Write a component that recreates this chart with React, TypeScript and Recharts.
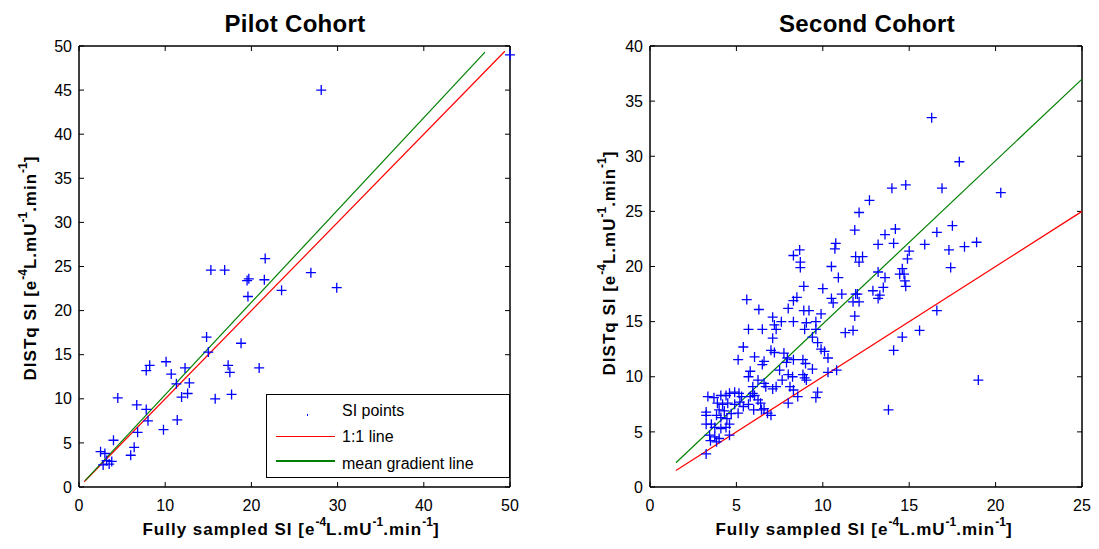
import React from 'react';
import { ScatterChart, Scatter, XAxis, YAxis } from 'recharts';

// Pilot cohort: [fully sampled SI, DISTq SI]
const pilotPoints: [number, number][] = [
  [21.6, 25.9], [15.3, 24.6], [16.9, 24.6], [19.5, 23.4], [19.7, 23.6], [21.5, 23.5],
  [26.9, 24.3], [23.5, 22.3], [19.6, 21.6], [29.9, 22.6], [14.8, 17.0], [15.0, 15.3],
  [18.8, 16.3], [10.1, 14.2], [8.2, 13.8], [7.8, 13.2], [10.7, 12.8], [12.3, 13.5],
  [17.3, 13.8], [17.5, 13.0], [20.9, 13.5], [11.3, 11.7], [12.8, 11.8], [12.6, 10.6],
  [11.9, 10.2], [4.5, 10.1], [15.8, 10.0], [17.7, 10.5], [6.7, 9.3], [7.8, 8.8],
  [8.0, 7.5], [11.4, 7.6], [9.8, 6.5], [6.8, 6.2], [4.0, 5.3], [6.4, 4.5],
  [6.0, 3.6], [2.5, 4.0], [3.0, 3.8], [2.8, 2.5], [3.5, 2.6], [3.8, 2.9],
  [3.2, 3.0], [28.1, 45.0], [50.0, 49.0],
];
const pilotOneToOne: [number, number][] = [[0.6, 0.6], [49.4, 49.4]];
const pilotMeanGradient: [number, number][] = [[0.7, 0.73], [47.1, 49.3]];

// Second cohort
const secondPoints: [number, number][] = [
  [12.1, 24.9], [11.85, 23.3], [12.7, 26.0], [8.66, 21.5], [8.3, 21.0], [8.7, 20.4],
  [8.7, 19.9], [10.75, 22.1], [10.7, 21.6], [10.5, 20.0], [10.9, 19.0], [11.9, 20.9],
  [12.3, 20.9], [12.1, 20.4], [8.9, 18.2], [10.0, 18.0],
  [16.3, 33.5], [17.9, 29.5], [14.0, 27.1], [14.8, 27.4], [16.9, 27.1], [20.3, 26.7],
  [14.2, 23.4], [13.6, 22.9], [17.5, 23.7], [16.6, 23.1], [14.1, 22.1], [13.2, 22.0],
  [15.9, 22.0], [17.3, 21.5], [18.2, 21.8], [18.9, 22.2], [15.0, 21.4], [14.9, 20.7],
  [13.2, 19.5], [13.6, 19.0], [14.6, 19.8], [14.45, 19.3], [14.7, 19.3], [14.75, 18.7],
  [14.8, 18.2], [17.4, 19.9], [12.9, 17.8], [13.5, 18.1], [13.3, 17.4], [11.9, 17.5],
  [13.2, 17.1], [12.0, 17.5], [11.75, 16.8], [12.1, 16.8], [11.85, 15.5], [11.75, 14.2],
  [16.6, 16.0], [15.6, 14.2], [14.6, 13.6], [14.1, 12.4], [19.0, 9.7], [13.8, 7.0],
  [5.6, 17.0], [6.3, 16.1], [8.3, 16.9], [8.5, 17.2], [8.0, 16.2], [8.9, 16.0],
  [9.2, 16.0], [9.9, 15.7], [10.5, 17.1], [10.6, 16.7], [11.1, 17.5], [11.3, 14.0],
  [7.1, 15.4], [7.6, 15.0], [8.3, 15.0], [9.05, 14.9], [9.6, 15.0], [7.2, 14.7],
  [5.7, 14.3], [6.5, 14.3], [7.3, 14.3], [8.95, 14.3], [9.6, 14.3], [7.1, 13.5],
  [9.4, 13.6], [9.7, 13.1], [9.9, 12.5], [10.1, 12.3], [10.3, 11.7], [5.4, 12.7],
  [5.1, 11.55], [6.05, 11.8], [6.6, 11.4], [6.5, 11.1], [7.0, 12.4], [7.2, 12.2],
  [7.75, 12.15], [7.95, 11.7], [7.9, 11.3], [8.3, 11.55], [8.85, 11.55], [9.0, 11.2],
  [7.5, 10.6], [9.4, 10.7], [5.8, 10.5], [5.7, 10.0], [8.0, 10.2], [8.25, 10.0],
  [8.85, 10.2], [8.95, 9.9], [9.05, 9.7], [10.3, 10.4], [10.8, 10.6], [7.65, 9.7],
  [8.1, 9.1], [8.3, 8.8], [8.55, 8.2], [9.7, 8.6], [9.6, 8.1], [8.0, 7.6],
  [7.1, 8.9], [7.3, 9.1], [6.7, 9.1], [6.6, 9.4], [6.25, 9.7], [5.95, 9.1],
  [5.95, 8.5], [6.05, 8.3], [5.8, 8.2], [6.25, 7.9], [6.4, 7.6], [6.6, 7.1],
  [6.8, 6.7], [7.0, 6.5], [6.45, 7.0], [6.0, 7.0], [5.4, 7.3], [5.3, 8.2],
  [5.15, 8.5], [4.9, 8.6], [4.6, 8.5], [4.4, 8.3], [4.1, 8.3], [3.7, 8.1],
  [3.35, 8.2], [3.9, 7.6], [4.2, 7.5], [4.5, 7.6], [4.9, 7.5], [5.2, 7.7],
  [5.7, 7.5], [4.0, 7.0], [4.3, 6.9], [4.7, 6.65], [5.1, 6.7], [3.85, 6.5],
  [4.1, 6.3], [4.45, 6.2], [4.6, 5.7], [4.4, 5.4], [4.1, 5.3], [3.75, 5.4],
  [3.55, 5.7], [3.25, 6.5], [3.25, 6.8], [3.25, 5.7], [3.45, 4.7], [3.75, 4.55],
  [4.0, 4.4], [3.5, 4.2], [3.85, 4.1], [3.25, 3.0], [4.6, 4.7],
];
const secondOneToOne: [number, number][] = [[1.5, 1.5], [25, 25]];
const secondMeanGradient: [number, number][] = [[1.5, 2.2], [25, 37]];

const pilotTicks = [0, 10, 20, 30, 40, 50];
const pilotYTicks = [0, 5, 10, 15, 20, 25, 30, 35, 40, 45, 50];
const secondXTicks = [0, 5, 10, 15, 20, 25];
const secondYTicks = [0, 5, 10, 15, 20, 25, 30, 35, 40];

const FONT = 'Arial, "Liberation Sans", sans-serif';
const tickStyle = { fontSize: 16, fill: '#000', fontFamily: FONT };
const axisLine = { stroke: '#000', strokeWidth: 1.5 };
const tickLine = { stroke: '#000', strokeWidth: 1 };

const toXY = (pts: [number, number][]) => pts.map(([x, y]) => ({ x, y }));

const Cross = (props: any) => {
  const { cx, cy } = props;
  if (cx == null || cy == null) return <g />;
  return (
    <path
      d={`M${cx - 5},${cy}h10M${cx},${cy - 5}v10`}
      stroke="#0000ff"
      strokeWidth={1.3}
      fill="none"
    />
  );
};

const NoDot = () => <g />;

interface PanelProps {
  left: number;
  width: number;
  yAxisWidth: number;
  rightMargin: number;
  xDomain: [number, number];
  yDomain: [number, number];
  xTicks: number[];
  yTicks: number[];
  points: [number, number][];
  oneToOne: [number, number][];
  meanGradient: [number, number][];
}

const Panel: React.FC<PanelProps> = (p) => (
  <div style={{ position: 'absolute', left: p.left, top: 0 }}>
    <ScatterChart
      width={p.width}
      height={549}
      margin={{ top: 45, right: p.rightMargin - 1, bottom: 32, left: 0 }}
    >
      <XAxis
        type="number"
        dataKey="x"
        domain={p.xDomain}
        ticks={p.xTicks}
        height={30}
        tickSize={-5}
        tickMargin={18}
        tick={tickStyle}
        axisLine={axisLine}
        tickLine={tickLine}
      />
      <XAxis
        xAxisId="top"
        orientation="top"
        type="number"
        dataKey="x"
        domain={p.xDomain}
        ticks={p.xTicks}
        height={1}
        tickSize={-5}
        tickFormatter={() => ''}
        axisLine={axisLine}
        tickLine={tickLine}
      />
      <YAxis
        type="number"
        dataKey="y"
        domain={p.yDomain}
        ticks={p.yTicks}
        width={p.yAxisWidth}
        tickSize={-5}
        tickMargin={12}
        tick={tickStyle}
        axisLine={axisLine}
        tickLine={tickLine}
      />
      <YAxis
        yAxisId="right"
        orientation="right"
        type="number"
        dataKey="y"
        domain={p.yDomain}
        ticks={p.yTicks}
        width={1}
        tickSize={-5}
        tickFormatter={() => ''}
        axisLine={axisLine}
        tickLine={tickLine}
      />
      {/* invisible series so the top/right box axes get drawn */}
      <Scatter
        xAxisId="top"
        yAxisId="right"
        data={toXY(p.oneToOne)}
        shape={NoDot}
        isAnimationActive={false}
      />
      <Scatter
        data={toXY(p.oneToOne)}
        line={{ stroke: '#ff0000', strokeWidth: 1.2 }}
        shape={NoDot}
        isAnimationActive={false}
      />
      <Scatter
        data={toXY(p.meanGradient)}
        line={{ stroke: '#008000', strokeWidth: 1.2 }}
        shape={NoDot}
        isAnimationActive={false}
      />
      <Scatter data={toXY(p.points)} shape={Cross} isAnimationActive={false} />
    </ScatterChart>
  </div>
);

const supStyle: React.CSSProperties = {
  fontSize: 12,
  letterSpacing: 0,
  verticalAlign: 'baseline',
  position: 'relative',
  top: -9,
};

const unitLabel = (prefix: string) => (
  <span>
    {prefix} [e<span style={supStyle}>-4</span>L.mU<span style={supStyle}>-1</span>.min
    <span style={supStyle}>-1</span>]
  </span>
);

const labelBase: React.CSSProperties = {
  position: 'absolute',
  fontFamily: FONT,
  fontWeight: 'bold',
  fontSize: 17,
  letterSpacing: 1,
  whiteSpace: 'nowrap',
  color: '#000',
  lineHeight: 'normal',
};

const titleStyle: React.CSSProperties = {
  ...labelBase,
  fontSize: 24,
  letterSpacing: 0.3,
  top: 10,
  transform: 'translateX(-50%)',
};

const xLabel = (cx: number) => (
  <div style={{ ...labelBase, left: cx, top: 520, transform: 'translateX(-50%)' }}>
    {unitLabel('Fully sampled SI')}
  </div>
);

const yLabel = (cx: number, cy: number) => (
  <div
    style={{
      ...labelBase,
      left: cx,
      top: cy,
      transform: 'translate(-50%, -50%) rotate(-90deg)',
    }}
  >
    {unitLabel('DISTq SI')}
  </div>
);

const legendItems = [
  { name: 'SI points', kind: 'dot' },
  { name: '1:1 line', kind: '#ff0000' },
  { name: 'mean gradient line', kind: '#008000' },
];

const Legend = () => (
  <div
    style={{
      position: 'absolute',
      left: 266,
      top: 394,
      width: 244,
      height: 84,
      border: '1.5px solid #000',
      background: '#fff',
      fontFamily: FONT,
      fontSize: 16,
      color: '#000',
      boxSizing: 'border-box',
    }}
  >
    {legendItems.map((e, i) => (
      <React.Fragment key={e.name}>
        {e.kind === 'dot' ? (
          <div style={{ position: 'absolute', left: 40, top: 18.5, width: 1.2, height: 2, background: '#0000ff' }} />
        ) : (
          <div
            style={{
              position: 'absolute',
              left: 9,
              top: 16 + 24.5 * i,
              width: 59,
              height: 1.5,
              background: e.kind,
            }}
          />
        )}
        <div style={{ position: 'absolute', left: 75, top: 6.5 + 26.7 * i, lineHeight: 'normal', whiteSpace: 'nowrap' }}>
          {e.name}
        </div>
      </React.Fragment>
    ))}
  </div>
);

export default function App() {
  return (
    <div style={{ position: 'absolute', left: 0, top: 0, width: 1099, height: 549, background: '#fff' }}>
      <Panel
        left={0}
        width={540}
        yAxisWidth={79}
        rightMargin={30}
        xDomain={[0, 50]}
        yDomain={[0, 50]}
        xTicks={pilotTicks}
        yTicks={pilotYTicks}
        points={pilotPoints}
        oneToOne={pilotOneToOne}
        meanGradient={pilotMeanGradient}
      />
      <Panel
        left={560}
        width={539}
        yAxisWidth={90}
        rightMargin={17}
        xDomain={[0, 25]}
        yDomain={[0, 40]}
        xTicks={secondXTicks}
        yTicks={secondYTicks}
        points={secondPoints}
        oneToOne={secondOneToOne}
        meanGradient={secondMeanGradient}
      />
      <div style={{ ...titleStyle, left: 295 }}>Pilot Cohort</div>
      <div style={{ ...titleStyle, left: 867 }}>Second Cohort</div>
      {xLabel(291)}
      {xLabel(864)}
      {yLabel(31, 268)}
      {yLabel(610, 263)}
      <Legend />
    </div>
  );
}
